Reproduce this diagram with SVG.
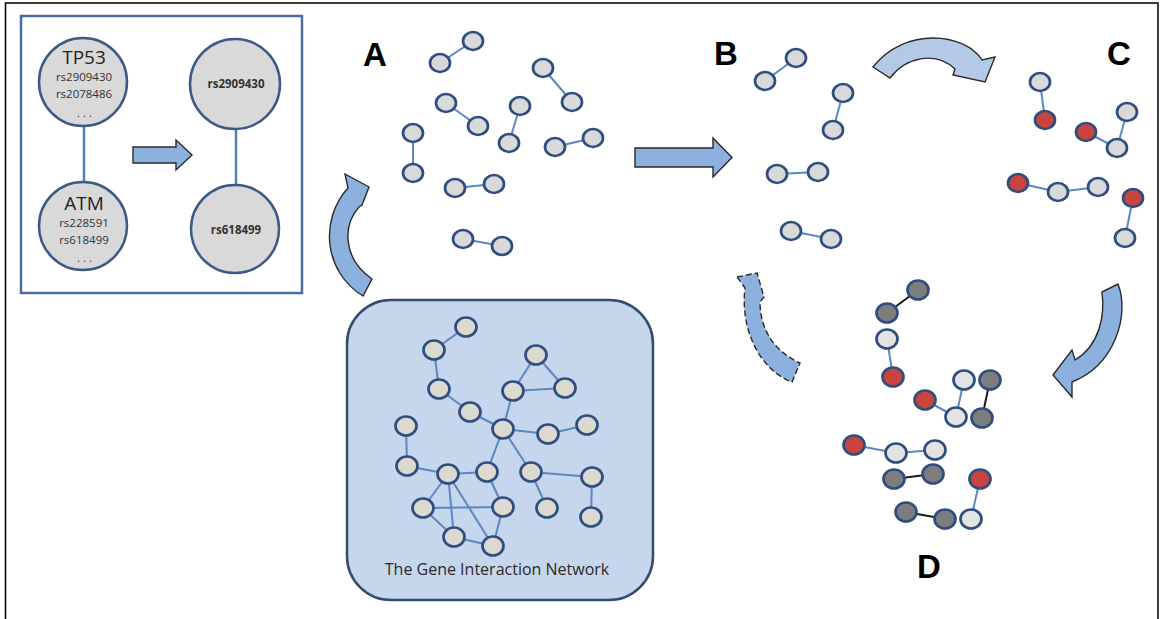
<svg xmlns="http://www.w3.org/2000/svg" width="1160" height="619" viewBox="0 0 1160 619">
  <style>
    .nd { fill: #d9d9d9; stroke: #2f4d7e; stroke-width: 2.7; }
    .nw { fill: #e3e3e3; stroke: #2f4d7e; stroke-width: 2.7; }
    .nr { fill: #c8443c; stroke: #2f4d7e; stroke-width: 2.7; }
    .ng { fill: #7d7d7d; stroke: #2f4d7e; stroke-width: 2.7; }
    .nn { fill: #dcd9d1; stroke: #2f4d7e; stroke-width: 2.7; }
    .ln { stroke: #5b87c2; stroke-width: 2; fill: none; }
    .lk { stroke: #1a1a1a; stroke-width: 2; fill: none; }
    .arrow { fill: #8db1df; stroke: #2a2a2a; stroke-width: 1.4; stroke-linejoin: miter; }
    .label { font-family: "Liberation Sans", Arial, sans-serif; font-weight: bold; font-size: 33px; fill: #000; }
    .snp { font-family: "Open Sans", "Liberation Sans", sans-serif; font-size: 11.5px; fill: #333; text-anchor: middle; }
    .gene { font-family: "Open Sans", "Liberation Sans", sans-serif; font-size: 19px; fill: #222; text-anchor: middle; }
  </style>

  <!-- page frame -->
  <path d="M5.5,619 V3 H1158 V619" fill="none" stroke="#000" stroke-width="1.5"/>

  <!-- inset: gene pair reduced to SNP pair -->
  <g id="inset">
    <rect x="21" y="16" width="281" height="277" fill="#fff" stroke="#4a6d9c" stroke-width="2.5"/>
    <line x1="84" y1="125" x2="84" y2="182" stroke="#4f7fc0" stroke-width="2.5"/>
    <line x1="236" y1="129" x2="236" y2="185" stroke="#4f7fc0" stroke-width="2.5"/>
    <g id="gene-tp53">
      <circle cx="83" cy="82" r="44" fill="#d9d9d9" stroke="#3b5a86" stroke-width="2.5"/>
      <text class="gene" x="84" y="64">TP53</text>
      <text class="snp" x="84" y="81">rs2909430</text>
      <text class="snp" x="84" y="98">rs2078486</text>
      <text class="snp" x="86" y="117" letter-spacing="3">...</text>
    </g>
    <g id="gene-atm">
      <circle cx="83" cy="226" r="44" fill="#d9d9d9" stroke="#3b5a86" stroke-width="2.5"/>
      <text class="gene" x="84" y="210">ATM</text>
      <text class="snp" x="84" y="227">rs228591</text>
      <text class="snp" x="84" y="244">rs618499</text>
      <text class="snp" x="86" y="262" letter-spacing="3">...</text>
    </g>
    <g id="snp-rs2909430">
      <circle cx="235" cy="84" r="45" fill="#d9d9d9" stroke="#3b5a86" stroke-width="2.5"/>
      <text class="snp" x="236" y="88" font-weight="bold" font-size="11.5" fill="#222">rs2909430</text>
    </g>
    <g id="snp-rs618499">
      <circle cx="235" cy="229" r="44" fill="#d9d9d9" stroke="#3b5a86" stroke-width="2.5"/>
      <text class="snp" x="236" y="234" font-weight="bold" font-size="11.5" fill="#222">rs618499</text>
    </g>
    <path class="arrow" d="M133,147 H176 V140 L192,155 L176,170 V163 H133 Z"/>
  </g>

  <!-- block arrows between stages -->
  <g id="flow-arrows">
    <path class="arrow" d="M345,174 L369,187 L362,205 L359,207 C343,225 342,258 372,279 L363,296 C324,272 319,220 348,188 Z"/>
    <path class="arrow" d="M635,148 H713 V138 L732,157.5 L713,177 V167 H635 Z"/>
    <path class="arrow" fill="#b3c9e6" style="fill:#b3c9e6" d="M873,67 L890,78 C905,58 935,50 955,69 L953,75 L985,82 L995,57 L982,60 C965,33 905,26 873,67 Z"/>
    <path class="arrow" d="M1102,292 L1118,284 C1130,315 1115,365 1072,382 L1072,397 L1053,375 L1072,350 L1075,360 C1100,345 1105,315 1102,292 Z"/>
    <path class="arrow" stroke-dasharray="6 3" d="M737,277 L757,273 L764,297 L760,302 C760,330 775,352 800,363 L792,382 C760,370 740,330 745,288 Z"/>
  </g>

  <!-- stage letters -->
  <text class="label" x="363" y="66">A</text>
  <text class="label" x="714" y="65">B</text>
  <text class="label" x="1107" y="65">C</text>
  <text class="label" x="917" y="578">D</text>

  <!-- network panel background -->
  <g id="network-box">
    <rect x="347" y="300" width="306" height="300" rx="44" ry="44" fill="#c6d6ec" stroke="#344b6c" stroke-width="2.5"/>
    <text x="497" y="575" font-family="Open Sans, Liberation Sans, sans-serif" font-size="16" fill="#2a2a2a" text-anchor="middle">The Gene Interaction Network</text>
  </g>

  <!-- connectors -->
  <g id="connectors">
    <!-- stage A pairs -->
    <line class="ln" x1="473" y1="41" x2="440" y2="63"/>
    <line class="ln" x1="543" y1="68" x2="572" y2="102"/>
    <line class="ln" x1="446" y1="103" x2="478" y2="126"/>
    <line class="ln" x1="520" y1="106" x2="509" y2="143"/>
    <line class="ln" x1="413" y1="133" x2="413" y2="173"/>
    <line class="ln" x1="555" y1="147" x2="593" y2="138"/>
    <line class="ln" x1="455" y1="188" x2="494" y2="184"/>
    <line class="ln" x1="463" y1="239" x2="502" y2="246"/>
    <!-- stage B pairs -->
    <line class="ln" x1="796" y1="58" x2="765" y2="81"/>
    <line class="ln" x1="843" y1="93" x2="833" y2="130"/>
    <line class="ln" x1="777" y1="174" x2="818" y2="172"/>
    <line class="ln" x1="791" y1="231" x2="831" y2="239"/>
    <!-- stage C -->
    <line class="ln" x1="1040" y1="82" x2="1045" y2="120"/>
    <line class="ln" x1="1086" y1="132" x2="1117" y2="148"/>
    <line class="ln" x1="1117" y1="148" x2="1127" y2="112"/>
    <line class="ln" x1="1018" y1="183" x2="1058" y2="192"/>
    <line class="ln" x1="1058" y1="192" x2="1098" y2="187"/>
    <line class="ln" x1="1133" y1="198" x2="1125" y2="238"/>
    <!-- stage D -->
    <line class="lk" x1="918" y1="290" x2="887" y2="313"/>
    <line class="ln" x1="887" y1="339" x2="893" y2="377"/>
    <line class="ln" x1="925" y1="400" x2="956" y2="417"/>
    <line class="ln" x1="956" y1="417" x2="964" y2="380"/>
    <line class="lk" x1="990" y1="380" x2="982" y2="418"/>
    <line class="ln" x1="854" y1="445" x2="896" y2="453"/>
    <line class="ln" x1="896" y1="453" x2="935" y2="450"/>
    <line class="lk" x1="894" y1="479" x2="933" y2="474"/>
    <line class="ln" x1="980" y1="479" x2="971" y2="519"/>
    <line class="lk" x1="906" y1="512" x2="945" y2="519"/>
    <!-- full network -->
    <line class="ln" x1="466" y1="327" x2="434" y2="350"/>
    <line class="ln" x1="434" y1="350" x2="439" y2="389"/>
    <line class="ln" x1="439" y1="389" x2="470" y2="412"/>
    <line class="ln" x1="470" y1="412" x2="503" y2="429"/>
    <line class="ln" x1="536" y1="355" x2="513" y2="391"/>
    <line class="ln" x1="536" y1="355" x2="565" y2="388"/>
    <line class="ln" x1="513" y1="391" x2="565" y2="388"/>
    <line class="ln" x1="513" y1="391" x2="503" y2="429"/>
    <line class="ln" x1="503" y1="429" x2="548" y2="434"/>
    <line class="ln" x1="548" y1="434" x2="587" y2="425"/>
    <line class="ln" x1="503" y1="429" x2="487" y2="472"/>
    <line class="ln" x1="503" y1="429" x2="531" y2="472"/>
    <line class="ln" x1="406" y1="426" x2="407" y2="466"/>
    <line class="ln" x1="407" y1="466" x2="448" y2="474"/>
    <line class="ln" x1="448" y1="474" x2="487" y2="472"/>
    <line class="ln" x1="448" y1="474" x2="423" y2="508"/>
    <line class="ln" x1="448" y1="474" x2="454" y2="537"/>
    <line class="ln" x1="448" y1="474" x2="493" y2="546"/>
    <line class="ln" x1="423" y1="508" x2="503" y2="507"/>
    <line class="ln" x1="423" y1="508" x2="454" y2="537"/>
    <line class="ln" x1="487" y1="472" x2="503" y2="507"/>
    <line class="ln" x1="503" y1="507" x2="493" y2="546"/>
    <line class="ln" x1="454" y1="537" x2="493" y2="546"/>
    <line class="ln" x1="531" y1="472" x2="592" y2="477"/>
    <line class="ln" x1="531" y1="472" x2="547" y2="508"/>
    <line class="ln" x1="592" y1="477" x2="591" y2="517"/>
  </g>

  <!-- stage A nodes -->
  <g id="a1"><ellipse class="nd" cx="473" cy="41" rx="10" ry="9"/></g>
  <g id="a2"><ellipse class="nd" cx="440" cy="63" rx="10" ry="9"/></g>
  <g id="a3"><ellipse class="nd" cx="543" cy="68" rx="10" ry="9"/></g>
  <g id="a4"><ellipse class="nd" cx="572" cy="102" rx="10" ry="9"/></g>
  <g id="a5"><ellipse class="nd" cx="446" cy="103" rx="10" ry="9"/></g>
  <g id="a6"><ellipse class="nd" cx="478" cy="126" rx="10" ry="9"/></g>
  <g id="a7"><ellipse class="nd" cx="520" cy="106" rx="10" ry="9"/></g>
  <g id="a8"><ellipse class="nd" cx="509" cy="143" rx="10" ry="9"/></g>
  <g id="a9"><ellipse class="nd" cx="413" cy="133" rx="10" ry="9"/></g>
  <g id="a10"><ellipse class="nd" cx="413" cy="173" rx="10" ry="9"/></g>
  <g id="a11"><ellipse class="nd" cx="555" cy="147" rx="10" ry="9"/></g>
  <g id="a12"><ellipse class="nd" cx="593" cy="138" rx="10" ry="9"/></g>
  <g id="a13"><ellipse class="nd" cx="455" cy="188" rx="10" ry="9"/></g>
  <g id="a14"><ellipse class="nd" cx="494" cy="184" rx="10" ry="9"/></g>
  <g id="a15"><ellipse class="nd" cx="463" cy="239" rx="10" ry="9"/></g>
  <g id="a16"><ellipse class="nd" cx="502" cy="246" rx="10" ry="9"/></g>

  <!-- stage B nodes -->
  <g id="b1"><ellipse class="nd" cx="796" cy="58" rx="10" ry="9"/></g>
  <g id="b2"><ellipse class="nd" cx="765" cy="81" rx="10" ry="9"/></g>
  <g id="b3"><ellipse class="nd" cx="843" cy="93" rx="10" ry="9"/></g>
  <g id="b4"><ellipse class="nd" cx="833" cy="130" rx="10" ry="9"/></g>
  <g id="b5"><ellipse class="nd" cx="777" cy="174" rx="10" ry="9"/></g>
  <g id="b6"><ellipse class="nd" cx="818" cy="172" rx="10" ry="9"/></g>
  <g id="b7"><ellipse class="nd" cx="791" cy="231" rx="10" ry="9"/></g>
  <g id="b8"><ellipse class="nd" cx="831" cy="239" rx="10" ry="9"/></g>

  <!-- stage C nodes -->
  <g id="c1"><ellipse class="nd" cx="1040" cy="82" rx="10" ry="9"/></g>
  <g id="c2"><ellipse class="nr" cx="1045" cy="120" rx="10" ry="9"/></g>
  <g id="c3"><ellipse class="nr" cx="1086" cy="132" rx="10" ry="9"/></g>
  <g id="c4"><ellipse class="nd" cx="1117" cy="148" rx="10" ry="9"/></g>
  <g id="c5"><ellipse class="nd" cx="1127" cy="112" rx="10" ry="9"/></g>
  <g id="c6"><ellipse class="nr" cx="1018" cy="183" rx="10" ry="9"/></g>
  <g id="c7"><ellipse class="nd" cx="1058" cy="192" rx="10" ry="9"/></g>
  <g id="c8"><ellipse class="nd" cx="1098" cy="187" rx="10" ry="9"/></g>
  <g id="c9"><ellipse class="nr" cx="1133" cy="198" rx="10" ry="9"/></g>
  <g id="c10"><ellipse class="nd" cx="1125" cy="238" rx="10" ry="9"/></g>

  <!-- stage D nodes -->
  <g id="d1"><ellipse class="ng" cx="918" cy="290" rx="10.5" ry="9.5"/></g>
  <g id="d2"><ellipse class="ng" cx="887" cy="313" rx="10.5" ry="9.5"/></g>
  <g id="d3"><ellipse class="nw" cx="887" cy="339" rx="10.5" ry="9.5"/></g>
  <g id="d4"><ellipse class="nr" cx="893" cy="377" rx="10.5" ry="9.5"/></g>
  <g id="d5"><ellipse class="nr" cx="925" cy="400" rx="10.5" ry="9.5"/></g>
  <g id="d6"><ellipse class="nw" cx="956" cy="417" rx="10.5" ry="9.5"/></g>
  <g id="d7"><ellipse class="nw" cx="964" cy="380" rx="10.5" ry="9.5"/></g>
  <g id="d8"><ellipse class="ng" cx="990" cy="380" rx="10.5" ry="9.5"/></g>
  <g id="d9"><ellipse class="ng" cx="982" cy="418" rx="10.5" ry="9.5"/></g>
  <g id="d10"><ellipse class="nr" cx="854" cy="445" rx="10.5" ry="9.5"/></g>
  <g id="d11"><ellipse class="nw" cx="896" cy="453" rx="10.5" ry="9.5"/></g>
  <g id="d12"><ellipse class="nw" cx="935" cy="450" rx="10.5" ry="9.5"/></g>
  <g id="d13"><ellipse class="ng" cx="894" cy="479" rx="10.5" ry="9.5"/></g>
  <g id="d14"><ellipse class="ng" cx="933" cy="474" rx="10.5" ry="9.5"/></g>
  <g id="d15"><ellipse class="nr" cx="980" cy="479" rx="10.5" ry="9.5"/></g>
  <g id="d16"><ellipse class="nw" cx="971" cy="519" rx="10.5" ry="9.5"/></g>
  <g id="d17"><ellipse class="ng" cx="906" cy="512" rx="10.5" ry="9.5"/></g>
  <g id="d18"><ellipse class="ng" cx="945" cy="519" rx="10.5" ry="9.5"/></g>

  <!-- full network nodes -->
  <g id="n1"><ellipse class="nn" cx="466" cy="327" rx="10.5" ry="9.5"/></g>
  <g id="n2"><ellipse class="nn" cx="434" cy="350" rx="10.5" ry="9.5"/></g>
  <g id="n3"><ellipse class="nn" cx="439" cy="389" rx="10.5" ry="9.5"/></g>
  <g id="n4"><ellipse class="nn" cx="470" cy="412" rx="10.5" ry="9.5"/></g>
  <g id="n5"><ellipse class="nn" cx="536" cy="355" rx="10.5" ry="9.5"/></g>
  <g id="n6"><ellipse class="nn" cx="513" cy="391" rx="10.5" ry="9.5"/></g>
  <g id="n7"><ellipse class="nn" cx="565" cy="388" rx="10.5" ry="9.5"/></g>
  <g id="n8"><ellipse class="nn" cx="503" cy="429" rx="10.5" ry="9.5"/></g>
  <g id="n9"><ellipse class="nn" cx="548" cy="434" rx="10.5" ry="9.5"/></g>
  <g id="n10"><ellipse class="nn" cx="587" cy="425" rx="10.5" ry="9.5"/></g>
  <g id="n11"><ellipse class="nn" cx="406" cy="426" rx="10.5" ry="9.5"/></g>
  <g id="n12"><ellipse class="nn" cx="407" cy="466" rx="10.5" ry="9.5"/></g>
  <g id="n13"><ellipse class="nn" cx="448" cy="474" rx="10.5" ry="9.5"/></g>
  <g id="n14"><ellipse class="nn" cx="487" cy="472" rx="10.5" ry="9.5"/></g>
  <g id="n15"><ellipse class="nn" cx="531" cy="472" rx="10.5" ry="9.5"/></g>
  <g id="n16"><ellipse class="nn" cx="592" cy="477" rx="10.5" ry="9.5"/></g>
  <g id="n17"><ellipse class="nn" cx="423" cy="508" rx="10.5" ry="9.5"/></g>
  <g id="n18"><ellipse class="nn" cx="503" cy="507" rx="10.5" ry="9.5"/></g>
  <g id="n19"><ellipse class="nn" cx="547" cy="508" rx="10.5" ry="9.5"/></g>
  <g id="n20"><ellipse class="nn" cx="591" cy="517" rx="10.5" ry="9.5"/></g>
  <g id="n21"><ellipse class="nn" cx="454" cy="537" rx="10.5" ry="9.5"/></g>
  <g id="n22"><ellipse class="nn" cx="493" cy="546" rx="10.5" ry="9.5"/></g>
</svg>
